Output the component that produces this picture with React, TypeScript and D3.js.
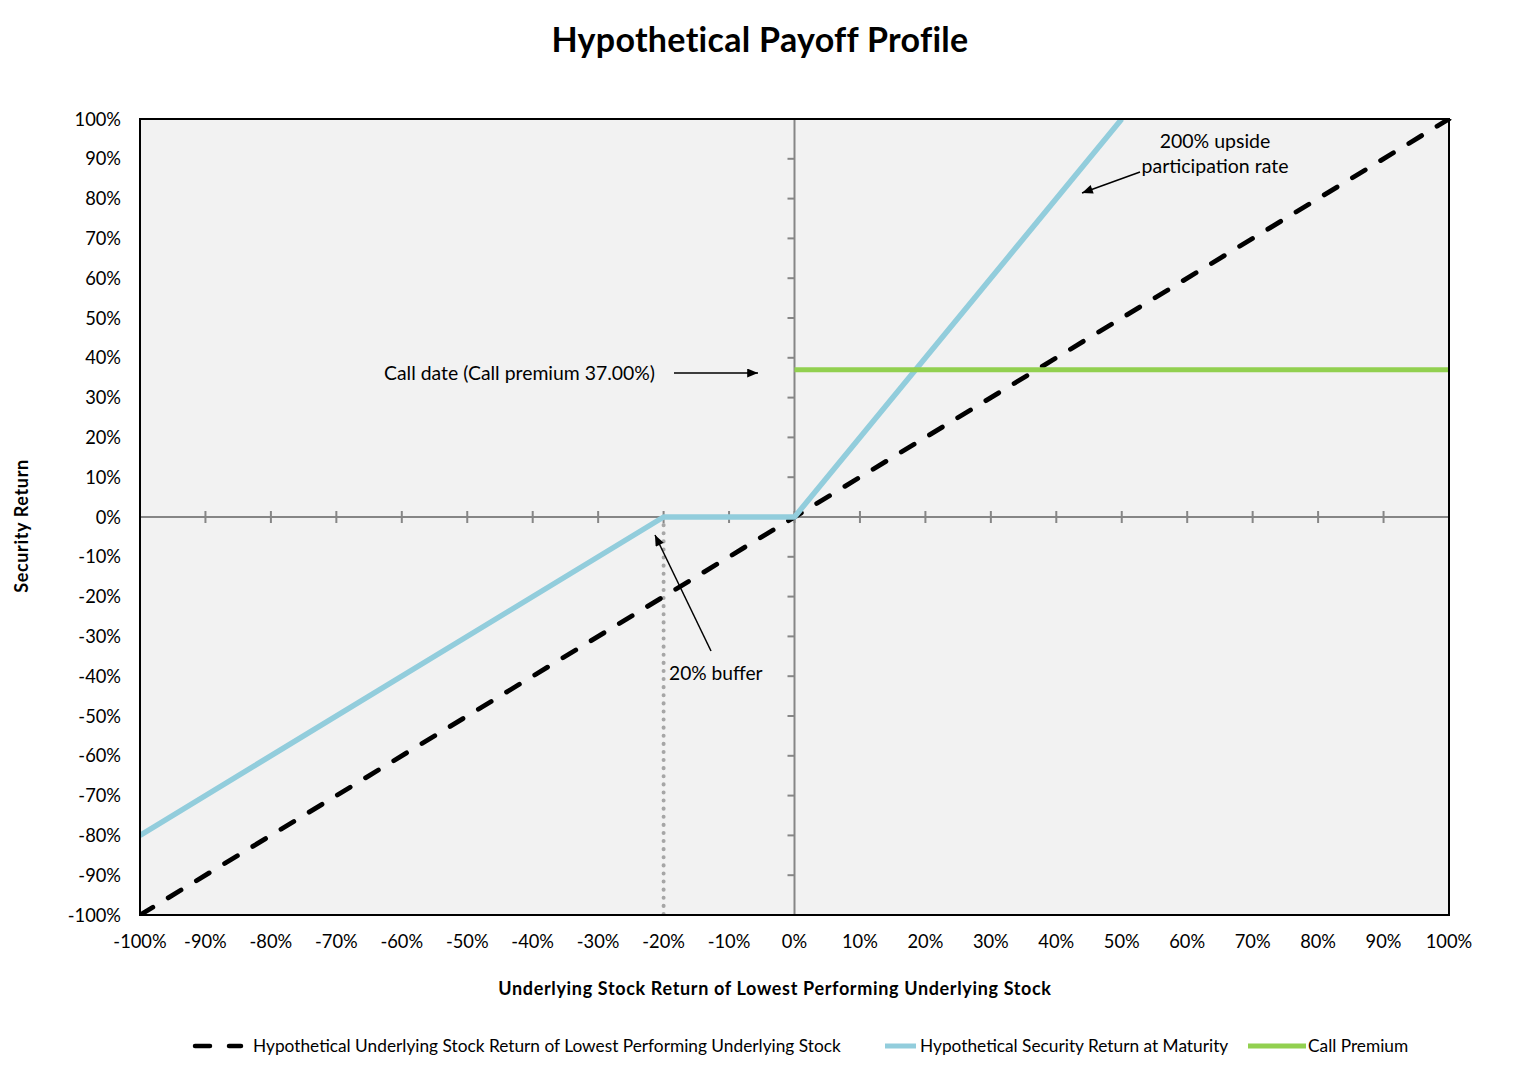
import React from 'react';
import * as d3 from 'd3';

// Values (returns in %)
const underlyingX = [-100, 100];
const underlyingY = [-100, 100];
const securityX = [-100, -20, 0, 50];
const securityY = [-80, 0, 0, 100];
const callPremiumX = [0, 100];
const callPremiumY = [37, 37];
const bufferX = [-20, -20];
const bufferY = [0, -100];
const tickValues = d3.range(-100, 101, 10);

const legendLabels = [
  'Hypothetical Underlying Stock Return of Lowest Performing Underlying Stock',
  'Hypothetical Security Return at Maturity',
  'Call Premium',
];

// legend layout (pixels)
const legendLayout = [
  { color: '#000000', dash: '15,19', x: 195, w: 46, tx: 253 },
  { color: '#92CDDC', dash: '', x: 885, w: 31, tx: 920 },
  { color: '#92D050', dash: '', x: 1248, w: 58, tx: 1308 },
];

const W = 1520;
const H = 1090;
const M = { left: 140, right: 1449, top: 119, bottom: 915 };
const FONT = 'Lato, "Open Sans", sans-serif';

const App: React.FC = () => {
  const x = d3.scaleLinear().domain([-100, 100]).range([M.left, M.right]);
  const y = d3.scaleLinear().domain([-100, 100]).range([M.bottom, M.top]);

  const line = (xs: number[], ys: number[]) =>
    d3.line<number>().x((d, i) => x(xs[i])).y(d => y(d))(ys) || '';

  const fmt = (v: number) => `${v}%`;

  return (
    <svg width={W} height={H} style={{ position: 'absolute', left: 0, top: 0 }} fontFamily={FONT}>
      <defs>
        <marker id="arrow" viewBox="0 0 12 10" refX="12" refY="5" markerWidth="12" markerHeight="9" markerUnits="userSpaceOnUse" orient="auto">
          <path d="M0,0 L12,5 L0,10 z" fill="#000" />
        </marker>
        <clipPath id="plotClip">
          <rect x={M.left} y={M.top} width={M.right - M.left + 4} height={M.bottom - M.top} />
        </clipPath>
      </defs>
      <rect width={W} height={H} fill="#fff" />

      <text x={760} y={52} textAnchor="middle" fontSize={34} fontWeight="bold" letterSpacing={0.3}>Hypothetical Payoff Profile</text>

      {/* plot area */}
      <rect x={M.left} y={M.top} width={M.right - M.left} height={M.bottom - M.top} fill="#f2f2f2" />

      {/* zero axes */}
      <line x1={M.left} x2={M.right} y1={y(0)} y2={y(0)} stroke="#868686" strokeWidth={2} />
      <line x1={x(0)} x2={x(0)} y1={M.top} y2={M.bottom} stroke="#868686" strokeWidth={2} />
      {tickValues.map(t => (
        <line key={`xt${t}`} x1={x(t)} x2={x(t)} y1={y(0) - 6} y2={y(0) + 6} stroke="#868686" strokeWidth={2} />
      ))}
      {tickValues.map(t => (
        <line key={`yt${t}`} x1={x(0) - 7} x2={x(0)} y1={y(t)} y2={y(t)} stroke="#868686" strokeWidth={2} />
      ))}

      {/* series */}
      <g clipPath="url(#plotClip)">
        <path d={line(bufferX, bufferY)} fill="none" stroke="#a6a6a6" strokeWidth={4} strokeDasharray="0.1,8" strokeLinecap="round" />
        <path d={line(underlyingX, underlyingY)} fill="none" stroke="#000" strokeWidth={4.8} strokeDasharray="15,18" strokeLinecap="round" />
        <path d={line(securityX, securityY)} fill="none" stroke="#92CDDC" strokeWidth={5.5} strokeLinejoin="round" />
        <path d={line(callPremiumX, callPremiumY)} fill="none" stroke="#92D050" strokeWidth={5} />
      </g>

      {/* border */}
      <rect x={M.left} y={M.top} width={M.right - M.left} height={M.bottom - M.top} fill="none" stroke="#000" strokeWidth={2} />

      {/* tick labels */}
      {tickValues.map(t => (
        <text key={`yl${t}`} x={121} y={y(t)} dy="0.36em" textAnchor="end" fontSize={18.3}>{fmt(t)}</text>
      ))}
      {tickValues.map(t => (
        <text key={`xl${t}`} x={x(t)} y={948} textAnchor="middle" fontSize={18.3}>{fmt(t)}</text>
      ))}

      {/* axis titles */}
      <text x={775} y={995} textAnchor="middle" fontSize={18} fontWeight="bold" letterSpacing={0.65}>Underlying Stock Return of Lowest Performing Underlying Stock</text>
      <text transform={`translate(28,526) rotate(-90)`} textAnchor="middle" fontSize={18} fontWeight="bold" letterSpacing={0.65}>Security Return</text>

      {/* annotations */}
      <text x={384} y={380} fontSize={19.4}>Call date (Call premium 37.00%)</text>
      <line x1={674} y1={373} x2={758} y2={373} stroke="#000" strokeWidth={1.5} markerEnd="url(#arrow)" />
      <text x={669} y={680} fontSize={19.2}>20% buffer</text>
      <line x1={711} y1={651} x2={655} y2={535} stroke="#000" strokeWidth={1.5} markerEnd="url(#arrow)" />
      <text x={1215} y={148} textAnchor="middle" fontSize={19.5}>200% upside</text>
      <text x={1215} y={173} textAnchor="middle" fontSize={19.5}>participation rate</text>
      <line x1={1140} y1={172} x2={1082} y2={193} stroke="#000" strokeWidth={1.5} markerEnd="url(#arrow)" />

      {/* legend */}
      {legendLabels.map((label, i) => {
        const l = legendLayout[i];
        return (
          <g key={label}>
            <line x1={l.x} x2={l.x + l.w} y1={1046} y2={1046} stroke={l.color} strokeWidth={l.dash ? 4.5 : 5} strokeDasharray={l.dash || undefined} strokeLinecap={l.dash ? 'round' : 'butt'} />
            <text x={l.tx} y={1052} fontSize={17.3}>{label}</text>
          </g>
        );
      })}
    </svg>
  );
};

export default App;
